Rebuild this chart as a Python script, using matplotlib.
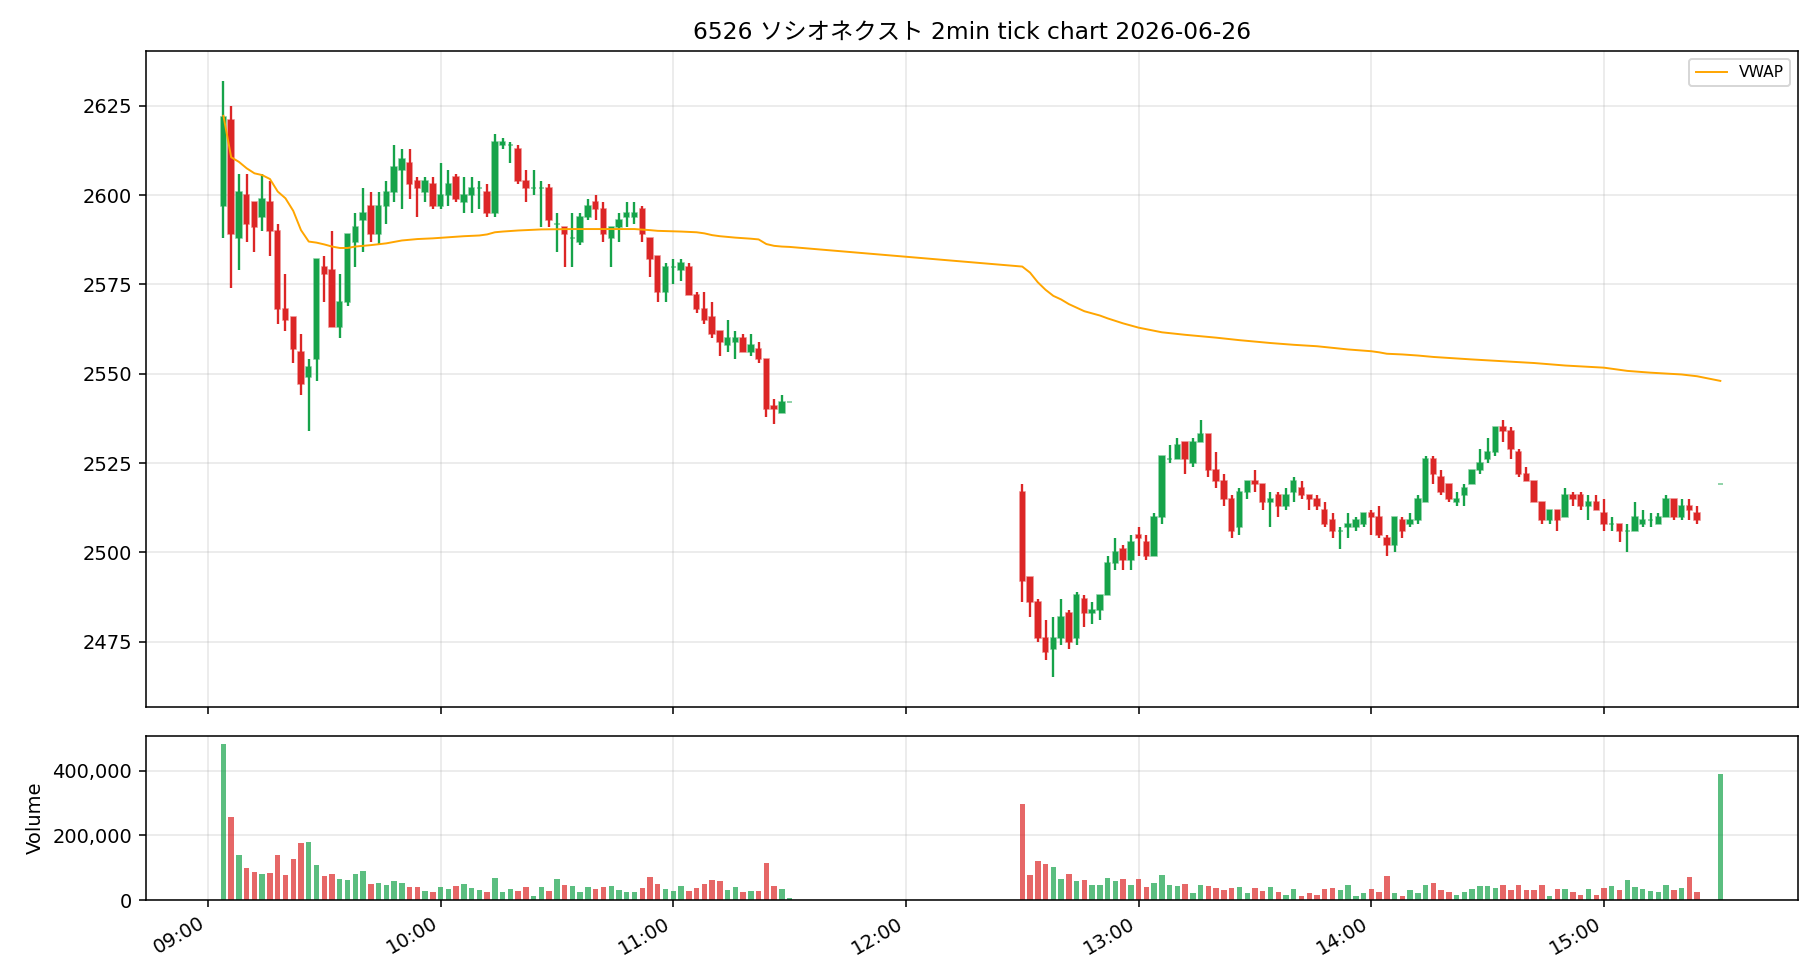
import pandas as pd
import matplotlib
matplotlib.use("Agg")
import matplotlib.pyplot as plt
import matplotlib.dates as mdates
from matplotlib.ticker import FuncFormatter

plt.rcParams['font.family'] = ['DejaVu Sans', 'Noto Sans CJK JP']

day = "2026-06-26"
title = "6526 ソシオネクスト 2min tick chart 2026-06-26"

# morning session, 2-min bars from 09:04
am_start = "09:04"
am_open = [2597, 2621, 2588, 2600, 2598, 2594, 2598, 2590, 2568, 2566,
           2556, 2549, 2554, 2580, 2579, 2563, 2570, 2587, 2593, 2597,
           2589, 2597, 2601, 2607, 2609, 2604, 2601, 2603, 2597, 2600,
           2605, 2598, 2600, 2602, 2601, 2595, 2614, 2614, 2613, 2604,
           2602, 2602, 2602, 2592, 2591, 2588, 2587, 2594, 2598, 2596,
           2588, 2591, 2594, 2594, 2596, 2588, 2583, 2573, 2580, 2579,
           2580, 2572, 2568, 2566, 2562, 2558, 2559, 2560, 2556, 2557,
           2554, 2541, 2539, 2542]
am_high = [2632, 2625, 2606, 2606, 2598, 2606, 2604, 2592, 2578, 2566,
           2561, 2554, 2582, 2583, 2590, 2578, 2589, 2595, 2602, 2601,
           2601, 2604, 2614, 2613, 2613, 2605, 2605, 2605, 2609, 2607,
           2606, 2605, 2605, 2604, 2603, 2617, 2616, 2615, 2614, 2607,
           2607, 2604, 2603, 2595, 2591, 2595, 2595, 2599, 2600, 2598,
           2591, 2595, 2598, 2598, 2597, 2588, 2583, 2581, 2582, 2582,
           2581, 2573, 2573, 2570, 2562, 2565, 2562, 2561, 2561, 2559,
           2554, 2543, 2544, 2542]
am_low = [2588, 2574, 2579, 2587, 2584, 2590, 2583, 2564, 2562, 2553,
          2544, 2534, 2548, 2570, 2563, 2560, 2569, 2580, 2584, 2587,
          2586, 2592, 2598, 2596, 2599, 2594, 2598, 2596, 2596, 2597,
          2598, 2595, 2595, 2596, 2594, 2594, 2613, 2609, 2603, 2598,
          2600, 2591, 2591, 2584, 2580, 2580, 2586, 2593, 2593, 2587,
          2580, 2587, 2591, 2592, 2587, 2577, 2570, 2570, 2575, 2576,
          2572, 2567, 2564, 2560, 2555, 2556, 2554, 2556, 2555, 2553,
          2538, 2536, 2539, 2542]
am_close = [2622, 2589, 2601, 2592, 2591, 2599, 2590, 2568, 2565, 2557,
            2547, 2552, 2582, 2578, 2563, 2570, 2589, 2591, 2595, 2589,
            2597, 2601, 2608, 2610, 2603, 2602, 2604, 2597, 2600, 2603,
            2599, 2600, 2602, 2602, 2595, 2615, 2615, 2614, 2604, 2602,
            2602, 2602, 2593, 2592, 2589, 2588, 2594, 2597, 2596, 2589,
            2591, 2593, 2595, 2595, 2589, 2582, 2573, 2580, 2580, 2581,
            2572, 2568, 2565, 2561, 2559, 2560, 2560, 2556, 2558, 2554,
            2540, 2540, 2542, 2542]
am_vol = [483000, 258000, 138000, 98000, 88000, 82000, 85000, 138000, 76000, 128000,
          175000, 178000, 107000, 73000, 82000, 64000, 61000, 82000, 91000, 51000,
          54000, 45000, 58000, 54000, 39000, 39000, 27000, 24000, 39000, 33000,
          42000, 51000, 36000, 30000, 24000, 67000, 24000, 33000, 27000, 39000,
          14000, 39000, 27000, 64000, 48000, 42000, 24000, 39000, 33000, 39000,
          42000, 30000, 24000, 24000, 36000, 70000, 51000, 33000, 27000, 42000,
          27000, 36000, 51000, 61000, 58000, 30000, 39000, 24000, 27000, 27000,
          116000, 42000, 33000, 5000]

# afternoon session, 2-min bars from 12:30
pm_start = "12:30"
pm_open = [2517, 2493, 2486, 2476, 2473, 2476, 2483, 2476, 2487, 2483,
           2484, 2488, 2497, 2501, 2498, 2505, 2503, 2499, 2510, 2526,
           2526, 2531, 2525, 2531, 2533, 2523, 2520, 2515, 2507, 2517,
           2520, 2519, 2514, 2516, 2513, 2517, 2518, 2516, 2515, 2512,
           2509, 2506, 2507, 2507, 2508, 2511, 2510, 2504, 2502, 2509,
           2508, 2509, 2514, 2526, 2521, 2519, 2514, 2516, 2519, 2523,
           2526, 2528, 2535, 2534, 2528, 2522, 2520, 2514, 2509, 2512,
           2510, 2516, 2516, 2513, 2514, 2511, 2508, 2508, 2506, 2506,
           2508, 2509, 2508, 2510, 2515, 2510, 2513, 2511]
pm_high = [2519, 2493, 2487, 2481, 2482, 2487, 2484, 2489, 2488, 2486,
           2488, 2499, 2504, 2502, 2505, 2507, 2505, 2511, 2527, 2530,
           2532, 2531, 2532, 2537, 2533, 2528, 2522, 2516, 2518, 2520,
           2523, 2519, 2517, 2517, 2518, 2521, 2520, 2516, 2516, 2514,
           2511, 2507, 2511, 2510, 2511, 2512, 2513, 2505, 2510, 2510,
           2511, 2516, 2527, 2527, 2523, 2519, 2517, 2519, 2523, 2529,
           2532, 2535, 2537, 2535, 2529, 2524, 2520, 2514, 2512, 2512,
           2518, 2517, 2517, 2516, 2516, 2515, 2510, 2508, 2508, 2514,
           2512, 2511, 2511, 2516, 2515, 2515, 2515, 2513]
pm_low = [2486, 2482, 2475, 2470, 2465, 2474, 2473, 2474, 2479, 2480,
          2481, 2488, 2495, 2495, 2495, 2499, 2498, 2499, 2508, 2525,
          2526, 2522, 2524, 2531, 2521, 2518, 2513, 2504, 2505, 2515,
          2517, 2512, 2507, 2510, 2512, 2514, 2515, 2512, 2512, 2507,
          2504, 2501, 2504, 2506, 2507, 2505, 2504, 2499, 2500, 2504,
          2507, 2508, 2514, 2519, 2516, 2514, 2513, 2513, 2519, 2522,
          2525, 2527, 2531, 2526, 2521, 2520, 2514, 2508, 2508, 2506,
          2510, 2513, 2512, 2509, 2512, 2506, 2506, 2503, 2500, 2506,
          2507, 2507, 2508, 2510, 2509, 2509, 2509, 2508]
pm_close = [2492, 2486, 2476, 2472, 2476, 2482, 2475, 2488, 2483, 2484,
            2488, 2497, 2500, 2498, 2503, 2504, 2499, 2510, 2527, 2526,
            2530, 2526, 2531, 2533, 2523, 2520, 2515, 2506, 2517, 2520,
            2519, 2514, 2515, 2513, 2516, 2520, 2516, 2515, 2513, 2508,
            2506, 2506, 2508, 2509, 2511, 2510, 2505, 2502, 2510, 2506,
            2509, 2515, 2526, 2522, 2517, 2515, 2515, 2518, 2523, 2525,
            2528, 2535, 2534, 2529, 2522, 2520, 2514, 2509, 2512, 2509,
            2516, 2515, 2513, 2514, 2512, 2508, 2508, 2506, 2506, 2510,
            2509, 2509, 2510, 2515, 2510, 2513, 2512, 2509]
pm_vol = [298000, 76000, 122000, 110000, 101000, 64000, 82000, 58000, 61000, 45000,
          45000, 67000, 58000, 64000, 48000, 64000, 39000, 54000, 76000, 45000,
          42000, 51000, 21000, 45000, 42000, 36000, 30000, 36000, 39000, 21000,
          36000, 27000, 39000, 24000, 17000, 33000, 11000, 21000, 17000, 33000,
          36000, 30000, 45000, 11000, 21000, 33000, 24000, 73000, 21000, 11000,
          30000, 21000, 45000, 54000, 30000, 24000, 17000, 24000, 33000, 42000,
          42000, 36000, 45000, 30000, 48000, 30000, 30000, 48000, 14000, 33000,
          33000, 24000, 17000, 33000, 17000, 36000, 42000, 30000, 61000, 39000,
          33000, 27000, 24000, 45000, 30000, 36000, 70000, 24000]

# closing auction
close_time = "15:30"
close_price = 2519
close_vol = 391000

# VWAP
vwap_times = ["09:04", "09:06", "09:08", "09:10", "09:12", "09:14", "09:16", "09:18",
              "09:20", "09:22", "09:24", "09:26", "09:28", "09:30", "09:32", "09:34",
              "09:36", "09:38", "09:42", "09:46", "09:50", "09:54", "09:58", "10:02",
              "10:06", "10:10", "10:12", "10:14", "10:16", "10:20", "10:26", "10:34",
              "10:50", "10:54", "10:56", "11:02", "11:06", "11:08", "11:10", "11:12",
              "11:16", "11:20", "11:22", "11:24", "11:26", "11:28", "11:30",
              "12:30", "12:32", "12:34", "12:36", "12:38", "12:40", "12:42", "12:46",
              "12:50", "12:52", "12:56", "13:00", "13:06", "13:12", "13:20", "13:26",
              "13:34", "13:40", "13:46", "13:54", "14:00", "14:02", "14:04", "14:08",
              "14:12", "14:16", "14:26", "14:34", "14:42", "14:50", "15:00", "15:06",
              "15:12", "15:20", "15:24", "15:30"]
vwap_vals = [2622.2, 2610.6, 2609.3, 2607.5, 2606.1, 2605.6, 2604.5, 2601.0,
             2599.1, 2595.6, 2590.2, 2587.0, 2586.7, 2586.2, 2585.6, 2585.2,
             2585.2, 2585.6, 2586.0, 2586.5, 2587.3, 2587.7, 2587.9, 2588.2,
             2588.5, 2588.7, 2589.0, 2589.6, 2589.8, 2590.1, 2590.4, 2590.5,
             2590.5, 2590.2, 2590.0, 2589.8, 2589.6, 2589.3, 2588.8, 2588.5,
             2588.1, 2587.8, 2587.6, 2586.3, 2585.8, 2585.6, 2585.5,
             2580.0, 2578.3, 2575.6, 2573.5, 2571.8, 2570.8, 2569.5, 2567.5,
             2566.3, 2565.5, 2564.1, 2562.9, 2561.6, 2560.9, 2560.1, 2559.4,
             2558.6, 2558.1, 2557.7, 2556.8, 2556.3, 2556.0, 2555.6, 2555.4,
             2555.1, 2554.7, 2554.0, 2553.5, 2553.0, 2552.3, 2551.7, 2550.8,
             2550.3, 2549.8, 2549.3, 2548.0]

UP = "#16a34a"
DOWN = "#dc2626"

# assemble bars
t_am = pd.date_range(f"{day} {am_start}", periods=len(am_open), freq="2min")
t_pm = pd.date_range(f"{day} {pm_start}", periods=len(pm_open), freq="2min")
t_cl = pd.DatetimeIndex([pd.Timestamp(f"{day} {close_time}")])
times = t_am.append(t_pm).append(t_cl)

df = pd.DataFrame({
    "open": am_open + pm_open + [close_price],
    "high": am_high + pm_high + [close_price],
    "low": am_low + pm_low + [close_price],
    "close": am_close + pm_close + [close_price],
    "volume": am_vol + pm_vol + [close_vol],
}, index=times)

x = mdates.date2num(df.index.to_pydatetime())
up = df["close"] >= df["open"]
colors = [UP if u else DOWN for u in up]
bar_w = 1.4 / (24 * 60)

fig, (ax, axv) = plt.subplots(2, 1, figsize=(13, 7), dpi=140, sharex=True,
                              gridspec_kw={"height_ratios": [4, 1]})
fig.subplots_adjust(left=0.080, right=0.988, top=0.948, bottom=0.0816, hspace=0.07)

# candles
ax.vlines(x, df["low"], df["high"], colors=colors, linewidth=1.2, zorder=2)
body_lo = df[["open", "close"]].min(axis=1)
body_h = (df["close"] - df["open"]).abs()
for xi, b, h, c in zip(x, body_lo, body_h, colors):
    ax.bar(xi, h, bottom=b, width=bar_w, color=c,
           edgecolor=matplotlib.colors.to_rgba(c, 0.6), linewidth=0.8, zorder=3)

vt = mdates.date2num(pd.to_datetime([f"{day} {t}" for t in vwap_times]).to_pydatetime())
ax.plot(vt, vwap_vals, color="orange", linewidth=1.0, label="VWAP", zorder=4)
ax.legend(loc="upper right", fontsize=8)
ax.set_title(title)
ax.grid(True, alpha=0.3)
ax.set_axisbelow(True)

lo, hi = df["low"].min(), df["high"].max()
pad = (hi - lo) * 0.05
ax.set_ylim(lo - pad, hi + pad)

# volume
axv.bar(x, df["volume"], width=bar_w, color=colors, alpha=0.7)
axv.set_ylabel("Volume")
axv.yaxis.set_major_formatter(FuncFormatter(lambda v, p: f"{int(v):,}"))
axv.grid(True, alpha=0.3)
axv.set_axisbelow(True)

axv.xaxis.set_major_locator(mdates.HourLocator())
axv.xaxis.set_major_formatter(mdates.DateFormatter("%H:%M"))
plt.setp(axv.get_xticklabels(), rotation=30, ha="right")
plt.setp(ax.get_xticklabels(), visible=False)

fig.savefig("out.png", dpi=140)
